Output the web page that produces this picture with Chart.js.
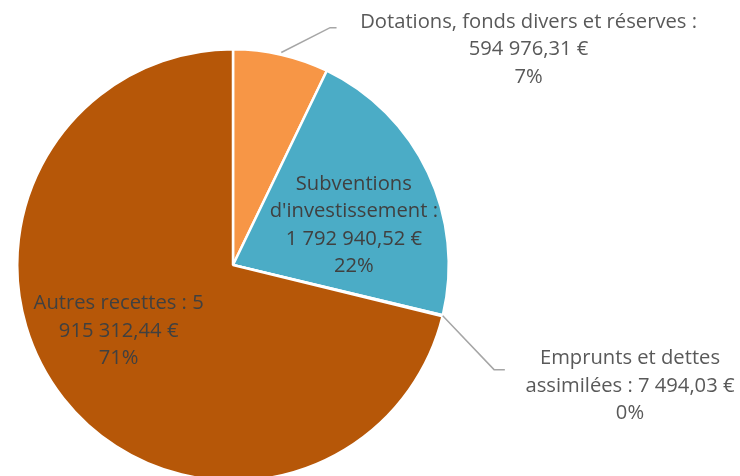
<!DOCTYPE html>
<html>
<head>
<meta charset="utf-8">
<script src="https://cdn.jsdelivr.net/npm/chart.js@4.4.1/dist/chart.umd.min.js"></script>
<style>
  html, body { margin: 0; padding: 0; background: #fff; overflow: hidden; }
  #wrap { position: relative; width: 740px; height: 484px; }
</style>
</head>
<body>
<div id="wrap"><canvas id="pie"></canvas></div>
<script>
// ── DATA ─────────────────────────────────────────
const categories = [
  'Dotations, fonds divers et réserves',
  "Subventions d'investissement",
  'Emprunts et dettes assimilées',
  'Autres recettes'
];
const amounts = [594976.31, 1792940.52, 7494.03, 5915312.44];
const amountText = ['594 976,31 €', '1 792 940,52 €', '7 494,03 €', '5 915 312,44 €'];
const percentText = ['7%', '22%', '0%', '71%'];
const colors = ['#F79646', '#4BACC6', '#9BBB59', '#B65708'];

// label lines (as Excel wrapped them)
const labelLines = [
  ['Dotations, fonds divers et réserves :', amountText[0], percentText[0]],
  ['Subventions', "d'investissement :", amountText[1], percentText[1]],
  ['Emprunts et dettes', 'assimilées : ' + amountText[2], percentText[2]],
  ['Autres recettes : 5', '915 312,44 €', percentText[3]]
];

const FONT = "20.2px 'Open Sans', sans-serif";
const LINE_H = 27.5;

// label placement relative to pie centre, in units of radius
const labelPos = [
  { x: 1.37, y: -1.0, color: '#595959' },
  { x: 0.56, y: -0.185, color: '#404040' },
  { x: 1.84, y: 0.56, color: '#595959' },
  { x: -0.53, y: 0.305, color: '#404040' }
];
// leader lines: start angle (deg from top) + radius factor, elbow and end relative to centre (radii)
const leaders = {
  0: { a: 12.8, r: 1.01, elbow: [0.45, -1.10], end: [0.48, -1.10] },
  2: { a: 103.6, r: 1.0, elbow: [1.21, 0.485], end: [1.26, 0.485] }
};

const labelPlugin = {
  id: 'sliceLabels',
  afterDatasetsDraw(chart) {
    const ctx = chart.ctx;
    const arc0 = chart.getDatasetMeta(0).data[0];
    const cx = arc0.x, cy = arc0.y, R = arc0.outerRadius;
    ctx.save();
    // leader lines
    ctx.strokeStyle = '#A6A6A6';
    ctx.lineWidth = 1.5;
    Object.keys(leaders).forEach(k => {
      const l = leaders[k];
      const a = (l.a - 90) * Math.PI / 180;
      ctx.beginPath();
      ctx.moveTo(cx + Math.cos(a) * R * l.r, cy + Math.sin(a) * R * l.r);
      ctx.lineTo(cx + l.elbow[0] * R, cy + l.elbow[1] * R);
      ctx.lineTo(cx + l.end[0] * R, cy + l.end[1] * R);
      ctx.stroke();
    });
    // texts
    ctx.font = FONT;
    ctx.textAlign = 'center';
    ctx.textBaseline = 'middle';
    labelLines.forEach((lines, i) => {
      const p = labelPos[i];
      ctx.fillStyle = p.color;
      const x = cx + p.x * R;
      const y0 = cy + p.y * R - (lines.length - 1) * LINE_H / 2;
      lines.forEach((t, j) => ctx.fillText(t, x, y0 + j * LINE_H));
    });
    ctx.restore();
  }
};

new Chart(document.getElementById('pie'), {
  type: 'pie',
  data: {
    labels: categories,
    datasets: [{
      data: amounts,
      backgroundColor: colors,
      borderColor: '#fff',
      borderWidth: 2.5
    }]
  },
  options: {
    responsive: true,
    maintainAspectRatio: false,
    animation: false,
    layout: { padding: { top: 48, bottom: 2, left: 16, right: 290 } },
    plugins: {
      legend: { display: false },
      tooltip: { enabled: false }
    }
  },
  plugins: [labelPlugin]
});
</script>
</body>
</html>
